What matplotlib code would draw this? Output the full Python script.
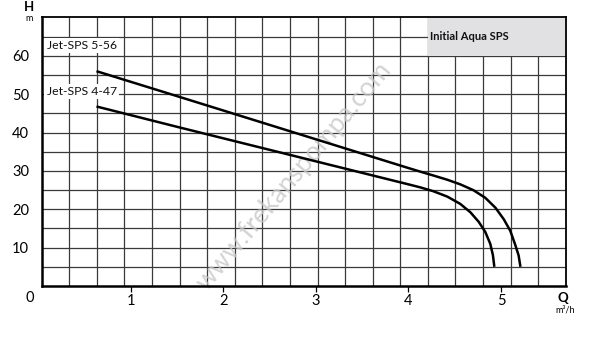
import numpy as np
import matplotlib
matplotlib.use("Agg")
import matplotlib.pyplot as plt
from matplotlib.patches import Rectangle
import matplotlib.transforms as mtransforms

plt.rcParams['font.family'] = ['Lato', 'DejaVu Sans']

# Data
q_556 = [0.63, 1.5, 2.5, 3.5, 4.0, 4.13, 4.27, 4.42, 4.56, 4.70, 4.83, 4.94, 5.03, 5.10, 5.15, 5.19, 5.21]
h_556 = [56.0, 49.5, 42.0, 34.5, 30.75, 29.8, 28.8, 27.7, 26.5, 25.0, 23.0, 20.4, 17.4, 14.4, 11.0, 8.0, 5.0]
q_447 = [0.63, 1.5, 2.5, 3.5, 4.0, 4.13, 4.27, 4.42, 4.56, 4.67, 4.76, 4.83, 4.884, 4.913, 4.928]
h_447 = [46.8, 41.5, 35.5, 29.5, 26.5, 25.7, 24.7, 23.3, 21.4, 19.2, 16.7, 14.1, 11.0, 8.0, 5.0]
x_ticks = [1, 2, 3, 4, 5]
y_ticks = [10, 20, 30, 40, 50, 60]
series_labels = ["Jet-SPS 5-56", "Jet-SPS 4-47"]
title_box = "Initial Aqua SPS"
watermark = "www.frekanspompa.com"

fig = plt.figure(figsize=(6.0, 3.41), dpi=100)
ax = fig.add_axes([0.0695, 0.1613, 0.8735, 0.7874])

x0, x1 = 0.038, 5.70
y0, y1 = 0, 70
ax.set_xlim(x0, x1)
ax.set_ylim(y0, y1)

gridc = '#3a3a3a'
for xv in np.linspace(x0, x1, 20)[1:-1]:
    ax.axvline(xv, color=gridc, lw=0.9, zorder=1)
for yv in np.arange(5, 70, 5):
    ax.axhline(yv, color=gridc, lw=0.9, zorder=1)

# gray title box
trans = mtransforms.blended_transform_factory(ax.transAxes, ax.transData)
ax.add_patch(Rectangle((14/19, 60), 5/19, 10, transform=trans,
                       facecolor='#e1e1e3', edgecolor='none', zorder=2))
ax.text(14/19 + 0.005, 65, title_box, transform=trans, fontsize=8,
        fontweight='bold', va='center', ha='left', color='#111', zorder=3)

# watermark (behind the curves)
ax.text((294 - 41.7) / 524, (286 - 176) / 268.5, watermark, transform=ax.transAxes,
        fontsize=19, rotation=50, color='#c8c8c8', ha='center', va='center',
        zorder=2.5, alpha=0.8)

ax.plot(q_556, h_556, color='black', lw=1.8, zorder=4, solid_capstyle='butt',
        solid_joinstyle='round')
ax.plot(q_447, h_447, color='black', lw=1.8, zorder=4, solid_capstyle='butt',
        solid_joinstyle='round')

bbox = dict(facecolor='white', edgecolor='none', pad=1.5)
ax.text(0.09, 62.8, series_labels[0], fontsize=8.8, va='center', ha='left',
        bbox=bbox, zorder=3, color='#111')
ax.text(0.09, 50.8, series_labels[1], fontsize=8.8, va='center', ha='left',
        bbox=bbox, zorder=3, color='#111')

for s in ['left', 'bottom']:
    ax.spines[s].set_linewidth(1.8)
for s in ['top', 'right']:
    ax.spines[s].set_linewidth(1.3)
for s in ax.spines.values():
    s.set_zorder(5)

ax.set_xticks(x_ticks)
ax.set_xticklabels([str(v) for v in x_ticks])
ax.set_yticks(y_ticks)
ax.set_yticklabels([str(v) for v in y_ticks])
ax.tick_params(axis='x', direction='out', length=4, width=0.9, labelsize=10.5, pad=2)
ax.tick_params(axis='y', length=0, labelsize=10.5, pad=9)

ax.text(-0.022, -0.045, "0", transform=ax.transAxes, fontsize=10.5, ha='center', va='center')
ax.text(-0.024, 1.04, "H", transform=ax.transAxes, fontsize=9.5, fontweight='bold', ha='center', va='center')
ax.text(-0.024, 0.995, "m", transform=ax.transAxes, fontsize=6.5, ha='center', va='center')
ax.text(0.995, -0.045, "Q", transform=ax.transAxes, fontsize=9.5, fontweight='bold', ha='center', va='center')
ax.text(0.999, -0.088, "m³/h", transform=ax.transAxes, fontsize=6.5, ha='center', va='center')

fig.savefig("out.png", dpi=100, facecolor='white')
